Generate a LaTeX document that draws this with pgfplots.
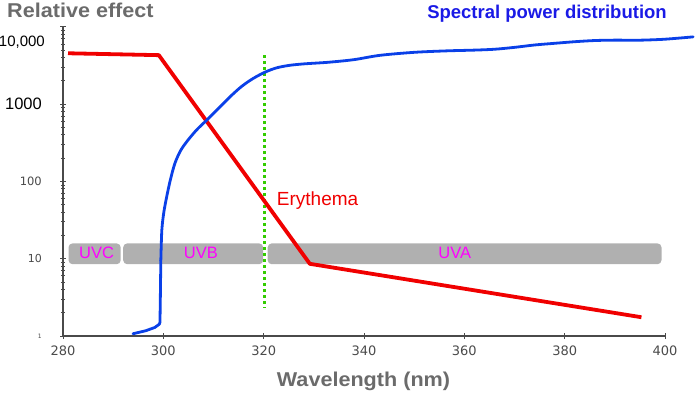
\documentclass[border=0pt]{standalone}
\usepackage{fontspec}
\setmainfont{Liberation Sans}
\newfontfamily\dv{DejaVu Sans}
\newfontfamily\hb[FakeStretch=1.08]{Liberation Sans}
\usepackage{pgfplots}
\pgfplotsset{compat=1.18}
\definecolor{axgray}{HTML}{4A4A4A}
\definecolor{txtgray}{HTML}{6B6B6B}
\definecolor{bargray}{HTML}{B0B0B0}
\definecolor{ery}{HTML}{F00000}
\definecolor{spd}{HTML}{0A40E8}
\definecolor{spdtxt}{HTML}{1A1AE6}
\definecolor{grn}{HTML}{33CC00}
\definecolor{mag}{HTML}{FF00FF}
\begin{document}
\begin{tikzpicture}[x=1pt,y=1pt]
\path[use as bounding box] (0,0) rectangle (700,392);
\begin{axis}[
  at={(63pt,56pt)}, anchor=south west,
  scale only axis, width=602pt, height=309pt,
  xmin=280, xmax=400, ymin=1, ymax=10000,
  ymode=log,
  axis lines*=left,
  axis line style={draw=axgray, line width=1.3pt},
  clip=false,
  xtick={280,300,...,400},
  xticklabel style={font=\dv\fontsize{13}{13}\selectfont, text=axgray, anchor=north, inner sep=0pt, yshift=-6.3pt},
  /pgf/number format/assume math mode=true,
  ytick={1,10,100,1000,10000},
  yticklabels={{\dv\fontsize{6}{6}\selectfont\color{axgray}1},{\dv\fontsize{11}{11}\selectfont\color{axgray}10},{\dv\fontsize{11.5}{11.5}\selectfont\color{axgray}100},{\fontsize{16.5}{16.5}\selectfont 1000},{}},
  extra y ticks={6357},
  extra y tick labels={{\fontsize{15}{15}\selectfont 10{,}000}},
  extra y tick style={major tick length=0pt},
  yticklabel style={anchor=east, inner sep=0pt, xshift=-18pt},
  tick style={draw=axgray, line width=1pt},
  major tick length=6pt, minor tick length=4pt,
  tick align=center,
]
% UV band bars
\fill[bargray, rounded corners=4pt] (axis cs:281.1,8.5) rectangle (axis cs:291.5,15.8);
\fill[bargray, rounded corners=4pt] (axis cs:292.0,8.5) rectangle (axis cs:319.9,15.8);
\fill[bargray, rounded corners=4pt] (axis cs:320.8,8.5) rectangle (axis cs:399.3,15.8);
\node[text=mag, font=\fontsize{16.5}{16.5}\selectfont] at (axis cs:286.7,12) {UVC};
\node[text=mag, font=\fontsize{16.5}{16.5}\selectfont] at (axis cs:307.5,12) {UVB};
\node[text=mag, font=\fontsize{16.5}{16.5}\selectfont] at (axis cs:358.1,12) {UVA};
% green dotted line
\addplot[grn, line width=3pt, dash pattern=on 3pt off 3pt] coordinates {(320.2,4315) (320.2,2.3)};
% Erythema
\addplot[ery, line width=3.8pt, line join=round] coordinates {(281,4570) (299.1,4320) (329.2,8.6) (395.3,1.75)};
% Spectral power distribution: foot
\addplot[spd, line width=2.8pt, line join=round, line cap=round] coordinates {
(293.95,1.07) (296.5,1.17) (298.3,1.29) (299.19,1.42) (299.33,1.50) (299.40,3.0) (299.50,9.5)};
% Spectral power distribution: body
\addplot[spd, line width=2.8pt, smooth, tension=0.5, line cap=round] coordinates {
(299.50,9.5) (299.70,23.5) (300.1,40) (300.67,63.4) (301.4,105) (302.32,173) (303.5,255) (304.92,344)
(306.7,470) (308.64,622) (310.9,870) (313.29,1247) (315.6,1700) (317.87,2150) (320.26,2600)
(322.5,2950) (325,3180) (328,3330) (333,3500) (338,3780) (343.2,4300) (350,4700)
(356.5,4910) (362,5020) (366,5150) (370,5450) (374,5850) (378,6150) (382,6450) (386,6680) (390,6760)
(395,6750) (400,6950) (405.6,7450)};
\end{axis}
\node[anchor=base west, inner sep=0pt, text=txtgray, font=\hb\bfseries\fontsize{20}{20}\selectfont] at (7,374.3) {Relative effect};
\node[anchor=base, inner sep=0pt, text=spdtxt, font=\bfseries\fontsize{18.5}{18.5}\selectfont] at (547,373.7) {Spectral power distribution};
\node[anchor=base west, inner sep=0pt, text=ery, font=\fontsize{19}{19}\selectfont] at (276.7,186.3) {Erythema};
\node[anchor=base, inner sep=0pt, text=txtgray, font=\hb\bfseries\fontsize{20}{20}\selectfont] at (363.5,5.3) {Wavelength (nm)};
\end{tikzpicture}
\end{document}
